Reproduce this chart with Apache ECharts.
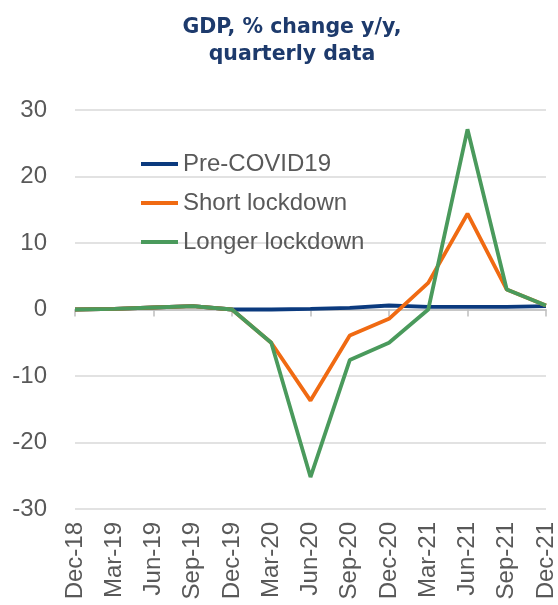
<!DOCTYPE html>
<html>
<head>
<meta charset="utf-8">
<script src="https://cdn.jsdelivr.net/npm/echarts@6/dist/echarts.min.js"></script>
<style>
  html, body { margin: 0; padding: 0; background: #fff; }
  #chart { width: 558px; height: 605px; }
</style>
</head>
<body>
<div id="chart"></div>
<script>
const quarters = ["Dec-18", "Mar-19", "Jun-19", "Sep-19", "Dec-19", "Mar-20", "Jun-20",
  "Sep-20", "Dec-20", "Mar-21", "Jun-21", "Sep-21", "Dec-21"];
const preCovid = [0.0, 0.1, 0.3, 0.5, 0.0, 0.0, 0.1, 0.25, 0.6, 0.4, 0.4, 0.4, 0.5];
const shortLockdown = [0.0, 0.1, 0.3, 0.5, 0.0, -5.0, -13.7, -3.9, -1.4, 4.0, 14.4, 3.0, 0.6];
const longerLockdown = [0.0, 0.1, 0.3, 0.5, 0.0, -5.0, -25.2, -7.6, -5.0, 0.0, 27.1, 3.0, 0.6];
const yTicks = { min: -30, max: 30, step: 10 };

const chart = echarts.init(document.getElementById("chart"));

const lineSeries = (name, data, color) => ({
  name: name,
  type: "line",
  data: data,
  symbol: "none",
  lineStyle: { width: 3.8, color: color },
  itemStyle: { color: color },
  xAxisIndex: 0,
  animation: false
});

chart.setOption({
  title: {
    text: "GDP, % change y/y,\nquarterly data",
    left: 287,
    textAlign: "center",
    top: 9,
    textStyle: {
      fontFamily: "DejaVu Sans",
      fontWeight: "bold",
      fontSize: 20.5,
      lineHeight: 27,
      color: "#1d3a6c"
    }
  },
  legend: {
    orient: "vertical",
    left: 136,
    top: 147,
    itemWidth: 37,
    itemHeight: 4,
    itemGap: 15,
    icon: "rect",
    textStyle: { fontFamily: "Liberation Sans", fontSize: 24, color: "#595959" },
    data: ["Pre-COVID19", "Short lockdown", "Longer lockdown"]
  },
  grid: { left: 75, right: 10, top: 110, bottom: 96 },
  xAxis: [
    {
      type: "category",
      data: quarters,
      boundaryGap: false,
      axisLine: { onZero: true, lineStyle: { color: "#bfbfbf", width: 1.5 } },
      axisTick: { length: 7, lineStyle: { color: "#bfbfbf", width: 1.5 } },
      axisLabel: { show: false },
      splitLine: { show: false }
    },
    {
      type: "category",
      data: quarters,
      boundaryGap: false,
      position: "bottom",
      axisLine: { show: false, onZero: false },
      axisTick: { show: false },
      axisLabel: {
        rotate: 90,
        margin: 13,
        fontFamily: "Liberation Sans",
        fontSize: 24,
        color: "#595959",
        interval: 0
      }
    }
  ],
  yAxis: {
    type: "value",
    min: yTicks.min,
    max: yTicks.max,
    interval: yTicks.step,
    axisLine: { show: false },
    axisTick: { show: false },
    axisLabel: { margin: 28, fontFamily: "Liberation Sans", fontSize: 24, color: "#595959" },
    splitLine: { lineStyle: { color: "#d9d9d9", width: 1.5 } }
  },
  series: [
    lineSeries("Pre-COVID19", preCovid, "#0b3a7e"),
    lineSeries("Short lockdown", shortLockdown, "#f06a12"),
    lineSeries("Longer lockdown", longerLockdown, "#4a9a5c")
  ]
});
</script>
</body>
</html>
